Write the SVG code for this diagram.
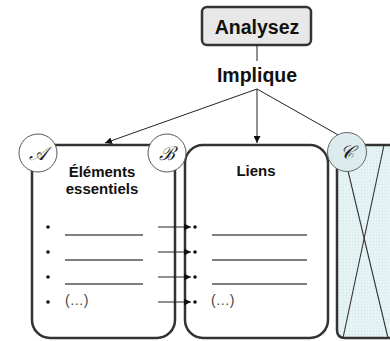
<svg xmlns="http://www.w3.org/2000/svg" width="390" height="341" viewBox="0 0 390 341">
<defs>
<marker id="ah" viewBox="0 0 10 10" refX="10" refY="5" markerWidth="7" markerHeight="7" orient="auto" markerUnits="userSpaceOnUse">
<path d="M0,0 L10,5 L0,10 z" fill="#111"/>
</marker>
<pattern id="dots" width="3" height="3" patternUnits="userSpaceOnUse">
<rect width="3" height="3" fill="#e6f3f4"/>
<rect x="1" y="1" width="1" height="1" fill="#d2e6e8"/>
</pattern>
</defs>
<style>
.box{fill:#fff;stroke:#333;stroke-width:2.5}
.circ{fill:#fff;stroke:#555;stroke-width:1}
.con{stroke:#222;stroke-width:1;fill:none}
.title{font-family:"Liberation Sans",Arial,sans-serif;font-weight:bold;fill:#111;text-anchor:middle}
.hd{font-family:"Liberation Sans",Arial,sans-serif;font-weight:bold;font-size:15px;fill:#111;text-anchor:middle}
.let{font-family:"DejaVu Serif","Liberation Serif",serif;font-style:italic;font-size:19px;fill:#222;text-anchor:middle}
.ul{stroke:#555;stroke-width:1.3}
.etc{font-family:"Liberation Sans",Arial,sans-serif;font-size:14px;fill:#444}
.bul{fill:#111}
</style>
<g id="analysez">
<rect x="202" y="7" width="109" height="38" rx="5" fill="#e8e8e8" stroke="#333" stroke-width="2.5"/>
<text class="title" x="257" y="34" font-size="19.5">Analysez</text>
</g>
<g id="implique">
<text class="title" x="257" y="82" font-size="19.5">Implique</text>
</g>
<g id="box-c">
<path d="M390,145 H337 V330 Q337,338 345,338 H390" fill="url(#dots)" stroke="#333" stroke-width="2.5"/>
<line x1="343" y1="150" x2="388" y2="338" stroke="#333" stroke-width="1.1"/>
<line x1="384" y1="145" x2="343" y2="338" stroke="#333" stroke-width="1.1"/>
</g>
<g id="box-liens">
<rect class="box" x="185" y="145" width="143" height="193" rx="18"/>
<text class="hd" x="256" y="176">Liens</text>
<circle class="bul" cx="195" cy="227" r="1.8"/>
<circle class="bul" cx="195" cy="252" r="1.8"/>
<circle class="bul" cx="195" cy="277" r="1.8"/>
<circle class="bul" cx="195" cy="302" r="1.8"/>
<line class="ul" x1="212" y1="235" x2="307" y2="235"/>
<line class="ul" x1="212" y1="260" x2="307" y2="260"/>
<line class="ul" x1="212" y1="284" x2="307" y2="284"/>
<text class="etc" x="211" y="305">(…)</text>
</g>
<g id="box-elements">
<rect class="box" x="32" y="145" width="143" height="193" rx="18"/>
<text class="hd" x="102" y="177">Éléments</text>
<text class="hd" x="102" y="194">essentiels</text>
<circle class="bul" cx="48" cy="227" r="1.8"/>
<circle class="bul" cx="48" cy="252" r="1.8"/>
<circle class="bul" cx="48" cy="277" r="1.8"/>
<circle class="bul" cx="48" cy="302" r="1.8"/>
<line class="ul" x1="65" y1="235" x2="143" y2="235"/>
<line class="ul" x1="65" y1="260" x2="143" y2="260"/>
<line class="ul" x1="65" y1="284" x2="143" y2="284"/>
<text class="etc" x="65" y="305">(…)</text>
</g>
<g id="connectors">
<line class="con" x1="257" y1="45" x2="257" y2="61"/>
<line class="con" x1="257" y1="89" x2="105" y2="143" marker-end="url(#ah)"/>
<line class="con" x1="257" y1="89" x2="257" y2="143" marker-end="url(#ah)"/>
<line class="con" x1="257" y1="89" x2="340" y2="136"/>
<line class="con" x1="158" y1="227" x2="191" y2="227" marker-end="url(#ah)"/>
<line class="con" x1="158" y1="252" x2="191" y2="252" marker-end="url(#ah)"/>
<line class="con" x1="158" y1="277" x2="191" y2="277" marker-end="url(#ah)"/>
<line class="con" x1="158" y1="302" x2="191" y2="302" marker-end="url(#ah)"/>
</g>
<g id="circle-a">
<circle class="circ" cx="38" cy="153" r="19"/>
<text class="let" x="38" y="160">𝒜</text>
</g>
<g id="circle-b">
<circle class="circ" cx="167" cy="153" r="19"/>
<text class="let" x="167" y="160">ℬ</text>
</g>
<g id="circle-c">
<circle cx="347" cy="152" r="19.5" fill="#dcecee" stroke="#666" stroke-width="1"/>
<text class="let" x="347" y="159">𝒞</text>
</g>
</svg>
